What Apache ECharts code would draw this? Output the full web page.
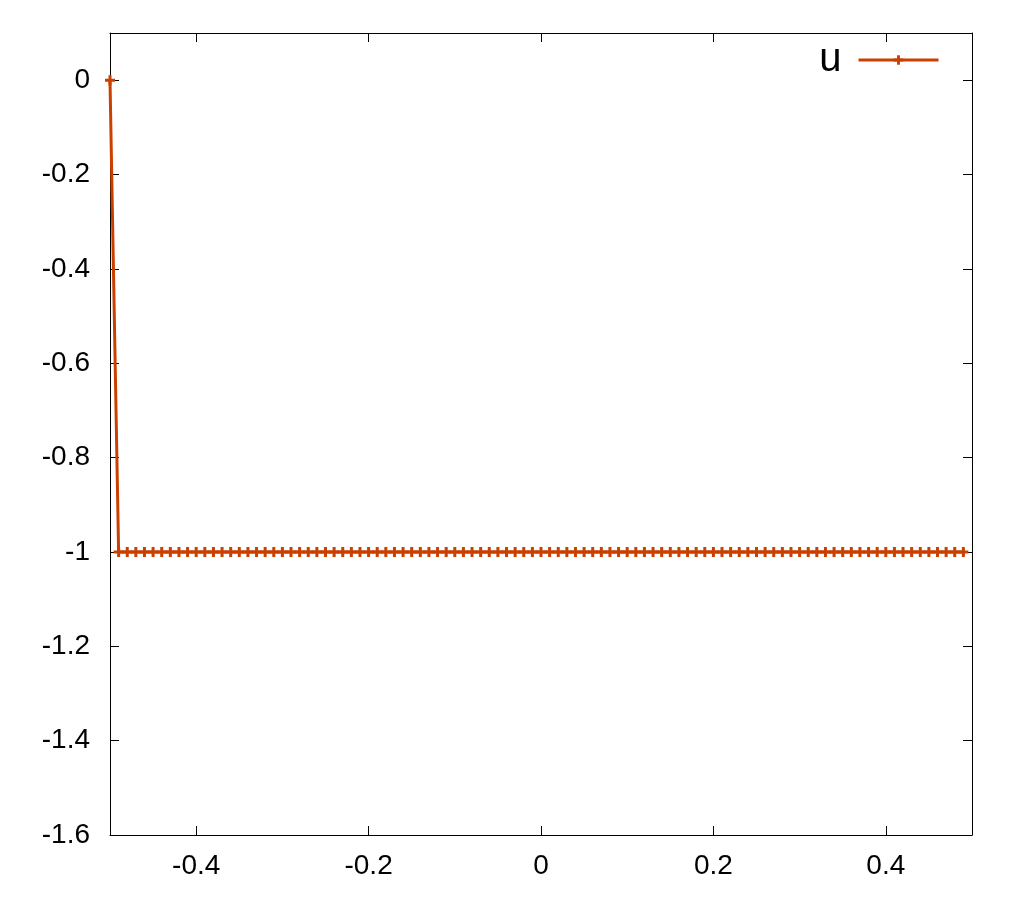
<!DOCTYPE html>
<html>
<head>
<meta charset="utf-8">
<script src="https://cdn.jsdelivr.net/npm/echarts@6/dist/echarts.min.js"></script>
<style>
  html, body { margin: 0; padding: 0; background: #fff; }
  #chart { width: 1024px; height: 900px; }
</style>
</head>
<body>
<div id="chart"></div>
<script>
// x positions of the samples
var xValues = [
  -0.5, -0.49, -0.48, -0.47, -0.46, -0.45, -0.44, -0.43, -0.42, -0.41,
  -0.4, -0.39, -0.38, -0.37, -0.36, -0.35, -0.34, -0.33, -0.32, -0.31,
  -0.3, -0.29, -0.28, -0.27, -0.26, -0.25, -0.24, -0.23, -0.22, -0.21,
  -0.2, -0.19, -0.18, -0.17, -0.16, -0.15, -0.14, -0.13, -0.12, -0.11,
  -0.1, -0.09, -0.08, -0.07, -0.06, -0.05, -0.04, -0.03, -0.02, -0.01,
  0, 0.01, 0.02, 0.03, 0.04, 0.05, 0.06, 0.07, 0.08, 0.09,
  0.1, 0.11, 0.12, 0.13, 0.14, 0.15, 0.16, 0.17, 0.18, 0.19,
  0.2, 0.21, 0.22, 0.23, 0.24, 0.25, 0.26, 0.27, 0.28, 0.29,
  0.3, 0.31, 0.32, 0.33, 0.34, 0.35, 0.36, 0.37, 0.38, 0.39,
  0.4, 0.41, 0.42, 0.43, 0.44, 0.45, 0.46, 0.47, 0.48, 0.49
];
// u values
var uValues = [
  0, -1, -1, -1, -1, -1, -1, -1, -1, -1,
  -1, -1, -1, -1, -1, -1, -1, -1, -1, -1,
  -1, -1, -1, -1, -1, -1, -1, -1, -1, -1,
  -1, -1, -1, -1, -1, -1, -1, -1, -1, -1,
  -1, -1, -1, -1, -1, -1, -1, -1, -1, -1,
  -1, -1, -1, -1, -1, -1, -1, -1, -1, -1,
  -1, -1, -1, -1, -1, -1, -1, -1, -1, -1,
  -1, -1, -1, -1, -1, -1, -1, -1, -1, -1,
  -1, -1, -1, -1, -1, -1, -1, -1, -1, -1,
  -1, -1, -1, -1, -1, -1, -1, -1, -1, -1
];
var xTicks = [-0.4, -0.2, 0, 0.2, 0.4];
var yTicks = [0, -0.2, -0.4, -0.6, -0.8, -1, -1.2, -1.4, -1.6];

var lineColor = '#c94000';
var plusSymbol = 'path://M0,3.5H10V6.5H0Z M3.5,0H6.5V10H3.5Z';
var font = 'Liberation Sans, Arial, sans-serif';

var points = [];
for (var i = 0; i < xValues.length; i++) {
  points.push([xValues[i], uValues[i]]);
}

function axisBase(ticks, showLabels) {
  return {
    axisLine: { show: true, onZero: false, lineStyle: { color: '#000', width: 1 } },
    axisTick: { show: true, inside: true, length: 9, customValues: ticks, lineStyle: { color: '#000', width: 1 } },
    axisLabel: { show: showLabels, customValues: ticks, color: '#000', fontSize: 28, fontFamily: font },
    splitLine: { show: false }
  };
}

var xBottom = axisBase(xTicks, true);
xBottom.type = 'value';
xBottom.position = 'bottom';
xBottom.min = -0.5;
xBottom.max = 0.5;
xBottom.axisLabel.margin = 17;

var xTop = axisBase(xTicks, false);
xTop.type = 'value';
xTop.position = 'top';
xTop.min = -0.5;
xTop.max = 0.5;

var yLeft = axisBase(yTicks, true);
yLeft.type = 'value';
yLeft.position = 'left';
yLeft.min = -1.6;
yLeft.max = 0.1;
yLeft.axisLabel.margin = 20;

var yRight = axisBase(yTicks, false);
yRight.type = 'value';
yRight.position = 'right';
yRight.min = -1.6;
yRight.max = 0.1;

var option = {
  animation: false,
  backgroundColor: '#fff',
  grid: { left: 110, top: 33, width: 862, height: 802, containLabel: false },
  legend: {
    data: ['u'],
    right: 84,
    top: 40,
    padding: 0,
    align: 'right',
    itemWidth: 80,
    itemHeight: 12,
    lineStyle: { width: 3 },
    textStyle: { fontSize: 40, fontFamily: font, color: '#000', padding: [0, 12, 12, 0] }
  },
  xAxis: [xBottom, xTop],
  yAxis: [yLeft, yRight],
  series: [{
    name: 'u',
    type: 'line',
    xAxisIndex: 0,
    yAxisIndex: 0,
    data: points,
    showAllSymbol: true,
    symbol: plusSymbol,
    symbolSize: 10,
    itemStyle: { color: lineColor },
    lineStyle: { color: lineColor, width: 3 }
  }]
};

echarts.init(document.getElementById('chart')).setOption(option);
</script>
</body>
</html>
